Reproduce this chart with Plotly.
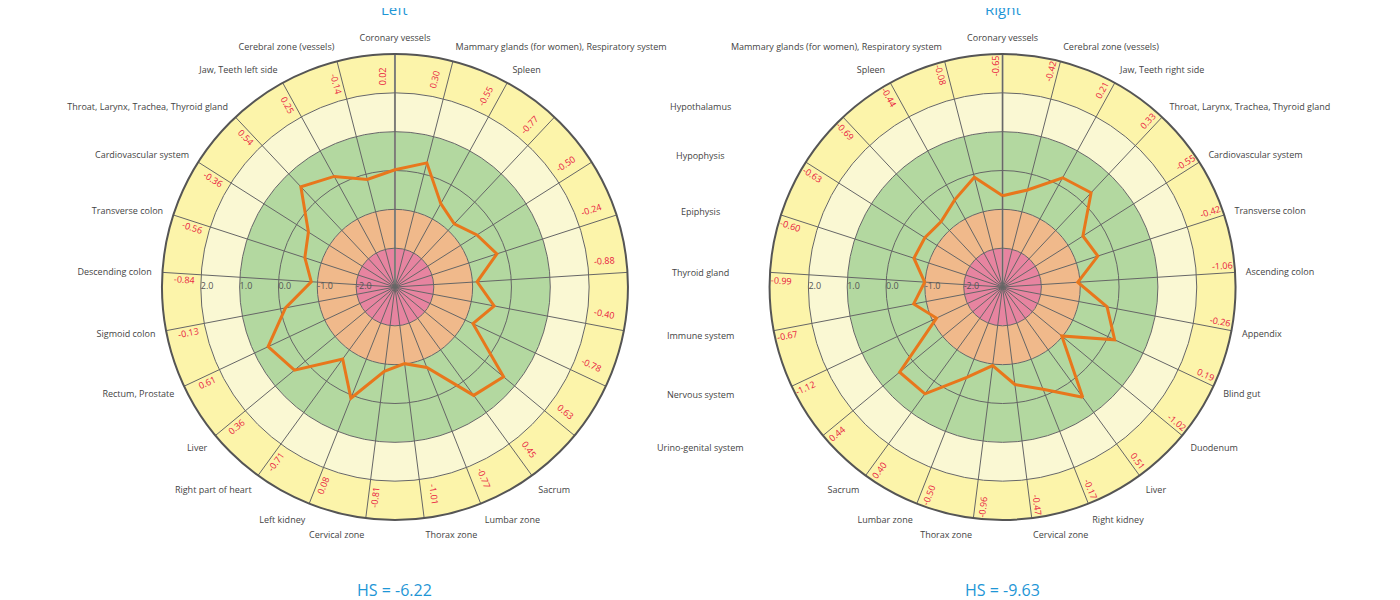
import math
import plotly.graph_objects as go

# ---------------- data ----------------
left_labels = ["Coronary vessels", "Mammary glands (for women), Respiratory system", "Spleen",
               "", "", "", "", "", "", "",
               "Sacrum", "Lumbar zone", "Thorax zone", "Cervical zone", "Left kidney",
               "Right part of heart", "Liver", "Rectum, Prostate", "Sigmoid colon",
               "Descending colon", "Transverse colon", "Cardiovascular system",
               "Throat, Larynx, Trachea, Thyroid gland", "Jaw, Teeth left side",
               "Cerebral zone (vessels)"]
right_labels = ["Coronary vessels", "Mammary glands (for women), Respiratory system", "Spleen",
                "", "", "", "", "", "", "",
                "Sacrum", "Lumbar zone", "Thorax zone", "Cervical zone", "Right kidney",
                "Liver", "Duodenum", "Blind gut", "Appendix", "Ascending colon",
                "Transverse colon", "Cardiovascular system",
                "Throat, Larynx, Trachea, Thyroid gland", "Jaw, Teeth right side",
                "Cerebral zone (vessels)"]
shared_labels = ["Hypothalamus", "Hypophysis", "Epiphysis", "Thyroid gland",
                 "Immune system", "Nervous system", "Urino-genital system"]
shared_first_index = 3

left_values = [0.02, 0.30, -0.55, -0.77, -0.50, -0.24, -0.88, -0.40, -0.78, 0.63,
               0.45, -0.77, -1.01, -0.81, 0.08, -0.71, 0.36, 0.61, -0.13, -0.84,
               -0.56, -0.36, 0.54, 0.25, -0.14]
right_values = [-0.65, -0.08, -0.44, -0.69, -0.63, -0.60, -0.99, -0.67, -1.12, 0.44,
                0.40, -0.50, -0.96, -0.47, -0.17, 0.51, -1.02, 0.19, -0.26, -1.06,
                -0.42, -0.55, 0.33, 0.21, -0.42]

titles = ["Left", "Right"]
hs_values = [-6.22, -9.63]

band_edges = [-3, -2, -1, 1, 2, 3]
band_colors = ["#e784a0", "#f0b98b", "#b3d8a0", "#faf8d3", "#fcf4aa"]
radial_ticks = [-2, -1, 0, 1, 2]

# ---------------- layout geometry ----------------
W, H = 1400, 600
PAGE_OFF = 8  # default page body margin in the browser
M = dict(l=80 - PAGE_OFF, r=80 + PAGE_OFF, t=54 - PAGE_OFF, b=80 + PAGE_OFF)
PW = W - M["l"] - M["r"]
PH = H - M["t"] - M["b"]
DOMAINS = [[0.0645, 0.4435], [0.5545, 0.9335]]
R_MIN, R_MAX = band_edges[0], band_edges[-1]
BLUE = "#1e96d6"
LINE_ORANGE = "#e8771c"
LABEL_RED = "#e8173f"
FONT = "Open Sans"

n = len(left_values)
step = 360.0 / n
thetas = [i * step for i in range(n)]


def geom(dom):
    """centre and radius of a polar domain, in screen pixels"""
    cx = PAGE_OFF + M["l"] + PW * (dom[0] + dom[1]) / 2
    cy = PAGE_OFF + M["t"] + PH / 2
    rad = min(PW * (dom[1] - dom[0]), PH) / 2
    return cx, cy, rad


def to_paper(x, y):
    xf, yf = x - PAGE_OFF, y - PAGE_OFF
    return (xf - M["l"]) / PW, (H - M["b"] - yf) / PH


charts = [
    dict(values=left_values, labels=left_labels, direction="clockwise",
         rlab=211, d_out=13, d_in=6, west=270),
    dict(values=right_values, labels=right_labels, direction="counterclockwise",
         rlab=221, d_out=7.5, d_in=7.5, west=90),
]

fig = go.Figure()
annotations = []
layout_polars = {}

for k, ch in enumerate(charts):
    dom = DOMAINS[k]
    base_name = "polar" if k == 0 else f"polar{2 * k + 1}"
    over_name = f"polar{2 * k + 2}"
    cx, cy, rad = geom(dom)

    # background bands
    for lo, hi, col in zip(band_edges[:-1], band_edges[1:], band_colors):
        fig.add_trace(go.Barpolar(r=[hi - lo], base=[lo], theta=[0], width=[360],
                                  marker=dict(color=col, line=dict(width=0)),
                                  subplot=base_name, hoverinfo="skip", showlegend=False))
    # data line
    vals = ch["values"]
    fig.add_trace(go.Scatterpolar(r=vals + [vals[0]], theta=thetas + [thetas[0]],
                                  mode="lines", line=dict(color=LINE_ORANGE, width=3),
                                  subplot=over_name, showlegend=False))
    # tick dots
    fig.add_trace(go.Scatterpolar(r=[R_MAX + 0.18] * n, theta=thetas, mode="markers",
                                  marker=dict(size=5, color="#555555"), cliponaxis=False,
                                  subplot=over_name, hoverinfo="skip", showlegend=False))
    # radial tick labels along the west spoke
    fig.add_trace(go.Scatterpolar(r=radial_ticks, theta=[ch["west"]] * len(radial_ticks),
                                  mode="text", text=[f"{t:.1f}" for t in radial_ticks],
                                  textposition="middle right",
                                  textfont=dict(size=9, color="#555555", family=FONT),
                                  cliponaxis=False, subplot=over_name,
                                  hoverinfo="skip", showlegend=False))

    layout_polars[base_name] = dict(
        domain=dict(x=dom, y=[0, 1]), bgcolor="white",
        angularaxis=dict(rotation=90, direction=ch["direction"], showgrid=False,
                         showline=False, showticklabels=False, ticks=""),
        radialaxis=dict(range=[R_MIN, R_MAX], angle=90, showline=True,
                        linecolor="#9a9a92", linewidth=2, showgrid=False,
                        showticklabels=False, ticks=""),
    )
    layout_polars[over_name] = dict(
        domain=dict(x=dom, y=[0, 1]), bgcolor="rgba(0,0,0,0)",
        angularaxis=dict(rotation=90, direction=ch["direction"], tickmode="array",
                         tickvals=thetas, ticktext=ch["labels"], showgrid=True,
                         gridcolor="#666666", gridwidth=1, showline=True,
                         linecolor="#555555", linewidth=2, ticks="outside", ticklen=8,
                         tickcolor="rgba(0,0,0,0)",
                         tickfont=dict(size=9, color="#444444", family=FONT)),
        radialaxis=dict(range=[R_MIN, R_MAX], angle=180, tickmode="array",
                        tickvals=radial_ticks, showgrid=True, showticklabels=False,
                        gridcolor="#666666", gridwidth=1, showline=False, ticks=""),
    )

    # rotated value labels
    for i, v in enumerate(vals):
        s = thetas[i] if ch["direction"] == "clockwise" else (360 - thetas[i]) % 360
        phi = (s + 90) % 360
        if 90 <= phi < 270:
            phi -= 180
        elif phi >= 270:
            phi -= 360
        tdir = (math.cos(math.radians(phi)), math.sin(math.radians(phi)))
        odir = (math.sin(math.radians(s)), -math.cos(math.radians(s)))
        outward = tdir[0] * odir[0] + tdir[1] * odir[1] > 0
        d = ch["d_out"] if outward else ch["d_in"]
        sa = math.radians(s) - d / ch["rlab"]
        px = cx + ch["rlab"] * math.sin(sa)
        py = cy - ch["rlab"] * math.cos(sa)
        xp, yp = to_paper(px, py)
        annotations.append(dict(x=xp, y=yp, xref="paper", yref="paper", text=f"{v:.2f}",
                                textangle=phi, showarrow=False, xanchor="center",
                                yanchor="middle",
                                font=dict(size=9, color=LABEL_RED, family=FONT)))

    # title and HS
    xp, yp = to_paper(cx, 9)
    annotations.append(dict(x=xp, y=yp, xref="paper", yref="paper", text=titles[k],
                            showarrow=False, xanchor="center", yanchor="middle",
                            font=dict(size=15, color=BLUE, family=FONT)))
    xp, yp = to_paper(cx, 590)
    annotations.append(dict(x=xp, y=yp, xref="paper", yref="paper",
                            text=f"HS = {hs_values[k]:.2f}", showarrow=False,
                            xanchor="center", yanchor="middle",
                            font=dict(size=16, color=BLUE, family=FONT)))

# shared labels in the middle
cx0, cy0, rad0 = geom(DOMAINS[0])
for j, name in enumerate(shared_labels):
    th = math.radians(thetas[shared_first_index + j])
    py = cy0 - 249 * math.cos(th) + 1.5
    xp, yp = to_paper(W / 2, py)
    annotations.append(dict(x=xp, y=yp, xref="paper", yref="paper", text=name,
                            showarrow=False, xanchor="center", yanchor="middle",
                            font=dict(size=9, color="#444444", family=FONT)))

fig.update_layout(
    width=W, height=H, margin=M, paper_bgcolor="white", plot_bgcolor="white",
    showlegend=False, font=dict(family=FONT), annotations=annotations,
    **layout_polars,
)

fig.write_html("out.html")
